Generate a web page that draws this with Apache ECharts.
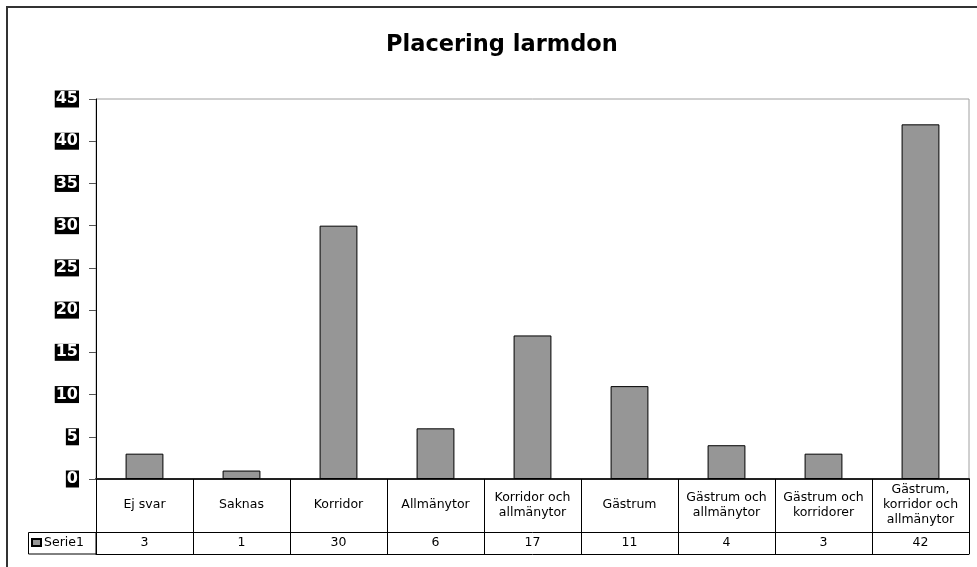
<!DOCTYPE html>
<html>
<head>
<meta charset="utf-8">
<script src="https://cdn.jsdelivr.net/npm/echarts@6/dist/echarts.min.js"></script>
<style>html,body{margin:0;padding:0;background:#fff;}#c{width:977px;height:567px;}</style>
</head>
<body>
<div id="c"></div>
<script>
const titleText = 'Placering larmdon';
const seriesName = 'Serie1';
const categories = ['Ej svar', 'Saknas', 'Korridor', 'Allmänytor', 'Korridor och\nallmänytor', 'Gästrum', 'Gästrum och\nallmänytor', 'Gästrum och\nkorridorer', 'Gästrum,\nkorridor och\nallmänytor'];
const values = [3, 1, 30, 6, 17, 11, 4, 3, 42];
const yTicks = { min: 0, max: 45, interval: 5 };

const FONT = '"DejaVu Sans", sans-serif';
const chart = echarts.init(document.getElementById('c'));
chart.setOption({
  animation: false,
  backgroundColor: '#fff',
  title: {
    text: titleText, left: 381, top: 29,
    textStyle: { fontFamily: FONT, fontSize: 22.5, fontWeight: 'bold', color: '#000' }
  },
  legend: {
    data: [seriesName], left: 31, top: 536, itemWidth: 9, itemHeight: 7, itemGap: 4,
    icon: 'rect', padding: 0,
    textStyle: { fontFamily: FONT, fontSize: 12.5, color: '#000', padding: [0, 0, 0, -2] }
  },
  grid: { left: 96, right: 8, top: 99, bottom: 88, show: true, borderColor: '#a0a0a0', borderWidth: 1, containLabel: false },
  xAxis: [
    {
      type: 'category', data: categories, position: 'bottom',
      axisLine: { lineStyle: { color: '#222', width: 2 } },
      axisTick: { show: true, length: 75, interval: 0, lineStyle: { color: '#000', width: 1 } },
      axisLabel: { interval: 0, margin: 26, verticalAlign: 'middle', fontFamily: FONT, fontSize: 12.5, color: '#000', lineHeight: 15 }
    },
    {
      type: 'category', data: values.map(String), position: 'bottom', offset: 53,
      axisLine: { lineStyle: { color: '#000', width: 1 } },
      axisTick: { show: false },
      axisLabel: { interval: 0, margin: 11, verticalAlign: 'middle', fontFamily: FONT, fontSize: 12.5, color: '#000' }
    },
    {
      type: 'category', data: values.map(String), position: 'bottom', offset: 75,
      axisLine: { lineStyle: { color: '#000', width: 1 } },
      axisTick: { show: false }, axisLabel: { show: false }
    }
  ],
  yAxis: {
    type: 'value', min: yTicks.min, max: yTicks.max, interval: yTicks.interval,
    axisLine: { show: true, lineStyle: { color: '#000', width: 1 } },
    axisTick: { show: true, length: 7, lineStyle: { color: '#555' } },
    splitLine: { show: false },
    axisLabel: {
      margin: 17, fontFamily: FONT, fontSize: 16, fontWeight: 'bold', color: '#fff',
      backgroundColor: '#000', padding: [2, 1, 1, 1], lineHeight: 14
    }
  },
  series: [{
    name: seriesName, type: 'bar', data: values, xAxisIndex: 0, barWidth: '39%',
    itemStyle: { color: '#969696', borderColor: '#000', borderWidth: 1 }
  }],
  graphic: [
    { type: 'rect', silent: true, shape: { x: 7, y: 7, width: 1000, height: 600 }, style: { fill: 'none', stroke: '#333', lineWidth: 2 } },
    { type: 'rect', silent: true, shape: { x: 28.5, y: 532.5, width: 67.5, height: 21.5 }, style: { fill: 'none', stroke: '#000', lineWidth: 1 } }
  ]
});
</script>
</body>
</html>
